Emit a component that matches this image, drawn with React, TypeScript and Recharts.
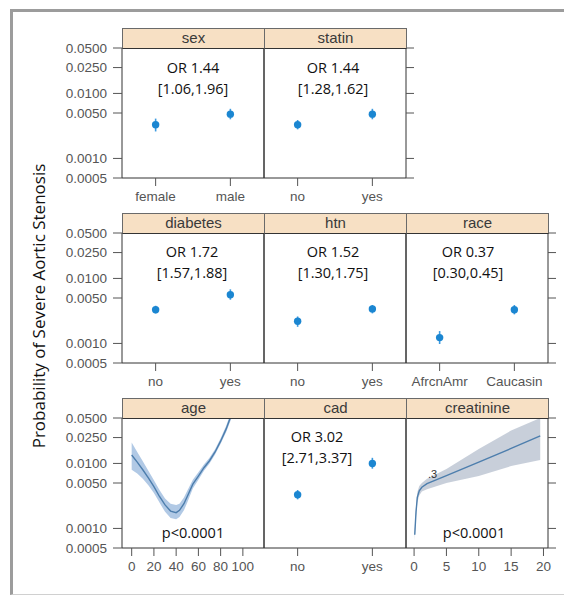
import React from 'react';
import { ComposedChart, Scatter, ErrorBar, XAxis, YAxis, Line, Area } from 'recharts';

// ---------- data ----------
const yTicks = [0.0005, 0.001, 0.005, 0.01, 0.025, 0.05];

const sexLevels = ['female', 'male'];
const sexProb = [0.0033, 0.0048];
const sexLo = [0.0026, 0.004];
const sexHi = [0.0041, 0.0058];

const statinLevels = ['no', 'yes'];
const statinProb = [0.0033, 0.0048];
const statinLo = [0.0028, 0.004];
const statinHi = [0.0039, 0.0058];

const diabetesLevels = ['no', 'yes'];
const diabetesProb = [0.0033, 0.0056];
const diabetesLo = [0.0029, 0.0047];
const diabetesHi = [0.0038, 0.0068];

const htnLevels = ['no', 'yes'];
const htnProb = [0.0022, 0.0034];
const htnLo = [0.0018, 0.0029];
const htnHi = [0.0026, 0.0039];

const raceLevels = ['AfrcnAmr', 'Caucasin'];
const raceProb = [0.00123, 0.0033];
const raceLo = [0.00098, 0.0028];
const raceHi = [0.00155, 0.0039];

const cadLevels = ['no', 'yes'];
const cadProb = [0.0033, 0.01];
const cadLo = [0.0028, 0.0083];
const cadHi = [0.0039, 0.0122];

const ageX = [0, 5, 10, 15, 20, 25, 30, 35, 40, 43, 47, 50, 55, 60, 65, 70, 75, 80, 85, 90, 95];
const ageProb = [0.0135, 0.0105, 0.008, 0.006, 0.0044, 0.0031, 0.0023, 0.00185, 0.00175, 0.0019, 0.0024, 0.0031, 0.0048, 0.0064, 0.0086, 0.011, 0.015, 0.022, 0.034, 0.058, 0.09];
const ageLo = [0.008, 0.007, 0.0058, 0.0046, 0.0035, 0.0025, 0.0018, 0.00145, 0.00138, 0.0015, 0.0019, 0.0025, 0.0041, 0.0056, 0.0077, 0.01, 0.0137, 0.02, 0.0305, 0.051, 0.078];
const ageHi = [0.021, 0.015, 0.0108, 0.0077, 0.0055, 0.0039, 0.0029, 0.0024, 0.0023, 0.0024, 0.003, 0.0038, 0.0056, 0.0073, 0.0096, 0.0122, 0.0165, 0.0243, 0.038, 0.066, 0.104];
const ageTicks = [0, 20, 40, 60, 80, 100];

const creatX = [0.1, 0.3, 0.5, 0.8, 1.2, 2, 5, 10, 15, 19.5];
const creatProb = [0.0008, 0.0018, 0.003, 0.0038, 0.0043, 0.0049, 0.0065, 0.0105, 0.017, 0.0265];
const creatLo = [0.00065, 0.0015, 0.0025, 0.0032, 0.0037, 0.004, 0.005, 0.0064, 0.0091, 0.0113];
const creatHi = [0.001, 0.0022, 0.0036, 0.0045, 0.005, 0.0058, 0.0082, 0.0167, 0.0321, 0.05];
const creatTicks = [0, 5, 10, 15, 20];

// ---------- layout ----------
const COLS = [122, 264, 406];
const ROWS = [48, 233, 418];
const PW = 142;
const PH = 130;
const LPAD = 70;
const RPAD = 14;
const BPAD = 36;
const TPAD = 10;
const STRIP_H = 20;

const TICK_FONT = '"Liberation Sans", Arial, sans-serif';
const ANN_FONT = '"Open Sans", sans-serif';
const POINT_COLOR = '#1b86d1';
const LINE_COLOR = '#4d7ead';

const buildPoints = (prob: number[], lo: number[], hi: number[]) =>
  prob.map((p, i) => ({ x: i + 1, y: p, err: [p - lo[i], hi[i] - p] }));

const buildCurve = (xs: number[], prob: number[], lo: number[], hi: number[]) =>
  xs.map((x, i) => ({ x, y: prob[i], band: [lo[i], hi[i]] }));

const emptyTick = () => <g />;

type PanelProps = {
  col: number;
  row: number;
  title: string;
  showLeft: boolean;
  showRight: boolean;
  data: any[];
  xDomain: [number, number];
  xTicks: number[];
  xFormat: (v: number) => string;
  kind: 'points' | 'curve';
  clip?: boolean;
};

function Panel(props: PanelProps) {
  const { col, row, title, showLeft, showRight, data, xDomain, xTicks, xFormat, kind, clip } = props;
  const px = COLS[col];
  const py = ROWS[row];
  return (
    <>
      <div style={{ position: 'absolute', left: px - LPAD, top: py - TPAD }}>
        <ComposedChart
          width={LPAD + PW + RPAD}
          height={TPAD + PH + BPAD}
          data={data}
          margin={{ top: TPAD, right: 0, bottom: 0, left: 0 }}
        >
          <XAxis
            dataKey="x"
            type="number"
            domain={xDomain}
            ticks={xTicks}
            interval={0}
            allowDataOverflow={!!clip}
            tickFormatter={xFormat}
            height={BPAD}
            tickSize={8}
            tickMargin={5}
            axisLine={{ stroke: '#333' }}
            tickLine={{ stroke: '#555' }}
            tick={{ fill: '#555', fontSize: 13.5, fontFamily: TICK_FONT }}
          />
          <YAxis
            yAxisId="left"
            dataKey="y"
            scale="log"
            type="number"
            domain={[0.0005, 0.05]}
            ticks={yTicks}
            interval={0}
            allowDataOverflow
            width={LPAD}
            tickFormatter={(v: number) => v.toFixed(4)}
            tickSize={9}
            tickMargin={6}
            axisLine={{ stroke: '#333' }}
            tickLine={showLeft ? { stroke: '#555' } : false}
            tick={showLeft ? { fill: '#555', fontSize: 13.5, fontFamily: TICK_FONT } : emptyTick}
          />
          <YAxis
            yAxisId="right"
            orientation="right"
            scale="log"
            type="number"
            domain={[0.0005, 0.05]}
            ticks={yTicks}
            interval={0}
            allowDataOverflow
            width={RPAD}
            tickSize={8}
            axisLine={{ stroke: '#333' }}
            tickLine={showRight ? { stroke: '#555' } : false}
            tick={emptyTick}
          />
          {kind === 'curve' && (
            <Area
              yAxisId="left"
              dataKey="band"
              type="linear"
              stroke="none"
              fill={col === 0 ? '#a8c3e2' : '#c2cad6'}
              fillOpacity={0.9}
              isAnimationActive={false}
            />
          )}
          {kind === 'curve' && (
            <Line
              yAxisId="left"
              dataKey="y"
              type="linear"
              stroke={LINE_COLOR}
              strokeWidth={1.4}
              dot={false}
              isAnimationActive={false}
            />
          )}
          {kind === 'points' && (
            <Scatter
              yAxisId="left"
              data={data}
              dataKey="y"
              fill={POINT_COLOR}
              isAnimationActive={false}
              shape={(p: any) => <circle cx={p.cx} cy={p.cy} r={3.7} fill={POINT_COLOR} />}
            >
              <ErrorBar dataKey="err" direction="y" width={0} stroke="#3d9be0" strokeWidth={1.6} />
            </Scatter>
          )}
        </ComposedChart>
      </div>
      <div
        style={{
          position: 'absolute',
          left: px,
          top: py - STRIP_H,
          width: PW + 1,
          height: STRIP_H + 1,
          boxSizing: 'border-box',
          background: '#f7e0c4',
          border: '1px solid #6a6a6a',
          borderBottom: '1px solid #333',
          fontFamily: TICK_FONT,
          fontSize: 15,
          color: '#3a3a3a',
          textAlign: 'center',
          lineHeight: '18px',
        }}
      >
        {title}
      </div>
    </>
  );
}

function Ann({ x, y, lines, size = 14.5 }: { x: number; y: number; lines: string[]; size?: number }) {
  return (
    <div
      style={{
        position: 'absolute',
        left: x - 60,
        top: y,
        width: 120,
        textAlign: 'center',
        fontFamily: ANN_FONT,
        fontSize: size,
        lineHeight: '21px',
        color: '#111',
        whiteSpace: 'nowrap',
      }}
    >
      {lines.map((l, i) => (
        <div key={i}>{l}</div>
      ))}
    </div>
  );
}

const catDomain: [number, number] = [0.55, 2.45];
const fmt = (levels: string[]) => (v: number) => levels[v - 1] ?? '';

export default function App() {
  return (
    <div
      style={{
        position: 'absolute',
        left: 0,
        top: 0,
        width: 564,
        height: 595,
        background: '#fff',
        overflow: 'hidden',
      }}
    >
      <div
        style={{
          position: 'absolute',
          left: 10,
          top: 9,
          width: 570,
          height: 582,
          borderLeft: '3px solid #9c9c9c',
          borderTop: '3px solid #9c9c9c',
          borderBottom: '1px solid #d0d0d0',
        }}
      />
      <div
        style={{
          position: 'absolute',
          left: 38,
          top: 306,
          transform: 'translate(-50%, -50%) rotate(-90deg)',
          fontFamily: ANN_FONT,
          fontSize: 17,
          color: '#111',
          whiteSpace: 'nowrap',
        }}
      >
        Probability of Severe Aortic Stenosis
      </div>

      <Panel col={0} row={0} title="sex" showLeft showRight={false} data={buildPoints(sexProb, sexLo, sexHi)} xDomain={catDomain} xTicks={[1, 2]} xFormat={fmt(sexLevels)} kind="points" />
      <Panel col={1} row={0} title="statin" showLeft={false} showRight data={buildPoints(statinProb, statinLo, statinHi)} xDomain={catDomain} xTicks={[1, 2]} xFormat={fmt(statinLevels)} kind="points" />

      <Panel col={0} row={1} title="diabetes" showLeft showRight={false} data={buildPoints(diabetesProb, diabetesLo, diabetesHi)} xDomain={catDomain} xTicks={[1, 2]} xFormat={fmt(diabetesLevels)} kind="points" />
      <Panel col={1} row={1} title="htn" showLeft={false} showRight={false} data={buildPoints(htnProb, htnLo, htnHi)} xDomain={catDomain} xTicks={[1, 2]} xFormat={fmt(htnLevels)} kind="points" />
      <Panel col={2} row={1} title="race" showLeft={false} showRight data={buildPoints(raceProb, raceLo, raceHi)} xDomain={catDomain} xTicks={[1, 2]} xFormat={fmt(raceLevels)} kind="points" />

      <Panel col={0} row={2} title="age" showLeft showRight={false} data={buildCurve(ageX, ageProb, ageLo, ageHi)} xDomain={[-8.7, 119]} xTicks={ageTicks} xFormat={(v) => String(v)} kind="curve" clip />
      <Panel col={1} row={2} title="cad" showLeft={false} showRight={false} data={buildPoints(cadProb, cadLo, cadHi)} xDomain={catDomain} xTicks={[1, 2]} xFormat={fmt(cadLevels)} kind="points" />
      <Panel col={2} row={2} title="creatinine" showLeft={false} showRight data={buildCurve(creatX, creatProb, creatLo, creatHi)} xDomain={[-1.25, 20.7]} xTicks={creatTicks} xFormat={(v) => String(v)} kind="curve" clip />

      <Ann x={193} y={57} lines={['OR 1.44', '[1.06,1.96]']} />
      <Ann x={333} y={57} lines={['OR 1.44', '[1.28,1.62]']} />
      <Ann x={192} y={241} lines={['OR 1.72', '[1.57,1.88]']} />
      <Ann x={333} y={241} lines={['OR 1.52', '[1.30,1.75]']} />
      <Ann x={468} y={241} lines={['OR 0.37', '[0.30,0.45]']} />
      <Ann x={317} y={426} lines={['OR 3.02', '[2.71,3.37]']} />
      <Ann x={193} y={522} lines={['p<0.0001']} />
      <Ann x={474} y={522} lines={['p<0.0001']} />
      <div style={{ position: 'absolute', left: 428, top: 468, fontFamily: TICK_FONT, fontSize: 11, color: '#333' }}>.3</div>
    </div>
  );
}
